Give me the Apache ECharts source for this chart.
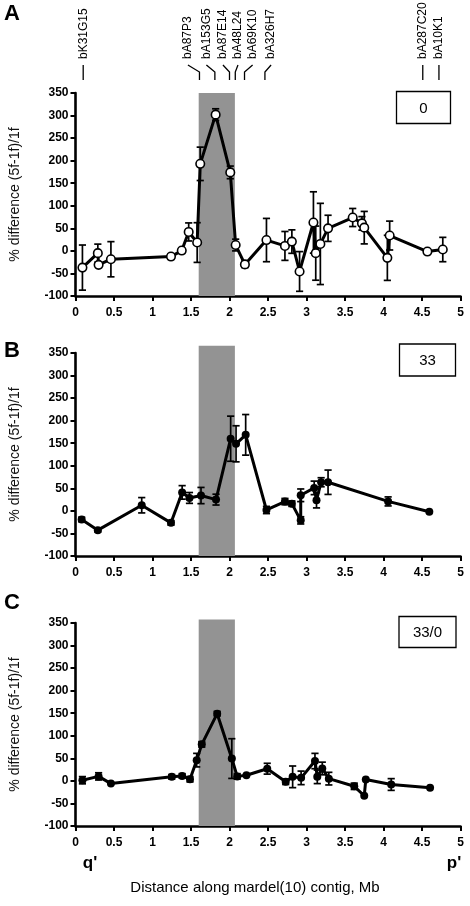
<!DOCTYPE html>
<html><head><meta charset="utf-8">
<script src="https://cdn.jsdelivr.net/npm/echarts@6/dist/echarts.min.js"></script>
<style>html,body{margin:0;padding:0;background:#fff}#c{width:470px;height:906px}</style>
</head><body><div id="c"></div><script>
// ---- data ----
const panelNames = ['A', 'B', 'C'];
const boxLabels = ['0', '33', '33/0'];
const xTicks = [0, 0.5, 1, 1.5, 2, 2.5, 3, 3.5, 4, 4.5, 5];
const yTicks = [-100, -50, 0, 50, 100, 150, 200, 250, 300, 350];
const bandStart = 1.6, bandEnd = 2.07;
const bandTop = [350, 366, 358];

const xA = [0.09,0.29,0.30,0.46,1.24,1.38,1.47,1.58,1.62,1.82,2.01,2.08,2.20,2.48,2.72,2.81,2.91,3.09,3.12,3.18,3.28,3.60,3.72,3.75,4.05,4.08,4.57,4.77];
const yA = [-37,-5,-31,-18.5,-12.6,0.7,42,18.5,193,302,174,13,-30,24,11,20.6,-45.6,63,-5,15.4,50,74,61,51.5,-15.4,34,-1.5,3];
const errA = [50,20,0,39,5,5,20,44,37,13,14,13,7,48,32,26,44,68,60,90,29,20,15,36,50,32,0,27];

const xB = [0.08,0.29,0.86,1.24,1.385,1.48,1.63,1.825,2.015,2.085,2.21,2.48,2.72,2.81,2.925,2.925,3.10,3.13,3.19,3.28,4.06,4.595];
const yB = [-19,-42.7,12.5,-26.5,41,28.7,34,25,160,148.7,168.6,2,20.6,16,-21,34.6,51,23.6,63.5,63.5,21,-2];
const errB = [5,4,17,5,15,12,18,12,50,40,45,8,7,6,8,14,15,17,10,27,10,0];

const xC = [0.09,0.30,0.46,1.25,1.385,1.487,1.574,1.64,1.84,2.03,2.10,2.22,2.49,2.73,2.82,2.93,3.11,3.14,3.205,3.29,3.62,3.75,3.77,4.10,4.605];
const yC = [1.5,10,-6,9,11,3.7,46,81,149,49.5,10,12.5,27,-2,9,6.7,44,9,27.5,5,-12,-33,3,-8,-15];
const errC = [8,8,0,5,5,6,15,6,5,44,6,0,12,6,24,15,17,15,14,14,7,0,0,13,0];

const cloneNames = ['bK31G15','bA87P3','bA153G5','bA87E14','bA48L24','bA69K10','bA326H7','bA287C20','bA10K1'];
const cloneMb =     [0.10, 1.61, 1.81, 2.00, 2.075, 2.195, 2.46, 4.51, 4.72];
const cloneTextMb = [0.10, 1.46, 1.70, 1.915, 2.11, 2.30, 2.54, 4.51, 4.72];

// ---- chart ----
const FONT = 'Liberation Sans, Arial, Helvetica, sans-serif';
const chart = echarts.init(document.getElementById('c'), null, {renderer: 'canvas'});
const tops = [93, 353, 623];
const H = 203;
const xs = [xA, xB, xC], ys = [yA, yB, yC], es = [errA, errB, errC];

function errItem(params, api) {
  const x = api.value(0), y = api.value(1), e = api.value(2);
  if (!e) return null;
  const hi = api.coord([x, y + e]), lo = api.coord([x, y - e]);
  const cw = 3.6;
  const st = {stroke: '#000', lineWidth: 1.7};
  return {type: 'group', children: [
    {type: 'line', shape: {x1: hi[0], y1: hi[1], x2: lo[0], y2: lo[1]}, style: st},
    {type: 'line', shape: {x1: hi[0] - cw, y1: hi[1], x2: hi[0] + cw, y2: hi[1]}, style: st},
    {type: 'line', shape: {x1: lo[0] - cw, y1: lo[1], x2: lo[0] + cw, y2: lo[1]}, style: st}
  ]};
}
function bandItem(params, api) {
  const p0 = api.coord([api.value(0), api.value(3)]);
  const p1 = api.coord([api.value(1), api.value(2)]);
  return {type: 'rect', shape: {x: p0[0], y: p0[1], width: p1[0] - p0[0], height: p1[1] - p0[1]},
    style: {fill: '#939393'}};
}

const grid = [], xAxis = [], yAxis = [], series = [];
for (let i = 0; i < 3; i++) {
  grid.push({left: 75.5, width: 385, top: tops[i], height: H});
  xAxis.push({type: 'value', gridIndex: i, min: 0, max: 5, interval: 0.5,
    axisLine: {onZero: false, lineStyle: {color: '#000', width: 2.6}},
    axisTick: {length: 5, lineStyle: {color: '#000', width: 2}},
    axisLabel: {color: '#000', fontWeight: 'bold', fontSize: 12, fontFamily: FONT, margin: 11,
      formatter: v => String(v)},
    splitLine: {show: false}});
  yAxis.push({type: 'value', gridIndex: i, min: yTicks[0], max: yTicks[yTicks.length - 1], interval: 50,
    name: '% difference (5f-1f)/1f', nameLocation: 'middle', nameGap: 53,
    nameTextStyle: {fontSize: 14, fontFamily: FONT, color: '#111'},
    axisLine: {show: true, lineStyle: {color: '#000', width: 2.6}},
    axisTick: {show: true, length: 5, lineStyle: {color: '#000', width: 2}},
    axisLabel: {color: '#000', fontWeight: 'bold', fontSize: 12, fontFamily: FONT, margin: 7},
    splitLine: {show: false}});
  series.push({type: 'custom', xAxisIndex: i, yAxisIndex: i, renderItem: bandItem, clip: false, silent: true, z: 1,
    encode: {x: [0, 1], y: [2, 3]}, data: [[bandStart, bandEnd, yTicks[0], bandTop[i]]]});
  series.push({type: 'custom', xAxisIndex: i, yAxisIndex: i, renderItem: errItem, z: 2, silent: true,
    encode: {x: 0, y: 1}, data: xs[i].map((x, k) => [x, ys[i][k], es[i][k]])});
  series.push({type: 'line', xAxisIndex: i, yAxisIndex: i, z: 3, animation: false,
    data: xs[i].map((x, k) => [x, ys[i][k]]),
    symbol: 'circle', symbolSize: i === 0 ? 8.5 : 8,
    lineStyle: {color: '#000', width: 3},
    itemStyle: i === 0 ? {color: '#fff', borderColor: '#000', borderWidth: 1.6} : {color: '#000', borderColor: '#000', borderWidth: 0}});
}

chart.setOption({animation: false, grid, xAxis, yAxis, series});

// ---- annotations ----
const g = [];
const boxes = [[396.5, 91.5, 54, 32], [399.5, 344, 56, 32], [399, 616.5, 57, 31]];
const letterY = [14, 351, 603];
for (let i = 0; i < 3; i++) {
  g.push({type: 'text', x: 4, y: letterY[i], style: {text: panelNames[i], font: 'bold 22px ' + FONT, fill: '#000', align: 'left', verticalAlign: 'middle'}});
  const b = boxes[i];
  g.push({type: 'rect', shape: {x: b[0], y: b[1], width: b[2], height: b[3]}, style: {fill: '#fff', stroke: '#000', lineWidth: 1.3}});
  g.push({type: 'text', x: b[0] + b[2] / 2, y: b[1] + b[3] / 2 + 1, style: {text: boxLabels[i], font: '15px ' + FONT, fill: '#000', align: 'center', verticalAlign: 'middle'}});
}
for (let k = 0; k < cloneNames.length; k++) {
  const lx = chart.convertToPixel({xAxisIndex: 0}, cloneMb[k]);
  const tx = chart.convertToPixel({xAxisIndex: 0}, cloneTextMb[k]);
  g.push({type: 'text', x: tx, y: 59, rotation: Math.PI / 2,
    style: {text: cloneNames[k], font: '12px ' + FONT, fill: '#000', align: 'left', verticalAlign: 'middle'}});
  g.push({type: 'polyline', shape: {points: [[tx, 65], [lx, 72], [lx, 80]]}, style: {stroke: '#000', lineWidth: 1.3, fill: null}});
}
g.push({type: 'text', x: 90, y: 863, style: {text: "q'", font: 'bold 17px ' + FONT, fill: '#000', align: 'center', verticalAlign: 'middle'}});
g.push({type: 'text', x: 454, y: 863, style: {text: "p'", font: 'bold 17px ' + FONT, fill: '#000', align: 'center', verticalAlign: 'middle'}});
g.push({type: 'text', x: 255, y: 888, style: {text: 'Distance along mardel(10) contig, Mb', font: '15px ' + FONT, fill: '#000', align: 'center', verticalAlign: 'middle'}});
chart.setOption({graphic: g});
</script></body></html>
